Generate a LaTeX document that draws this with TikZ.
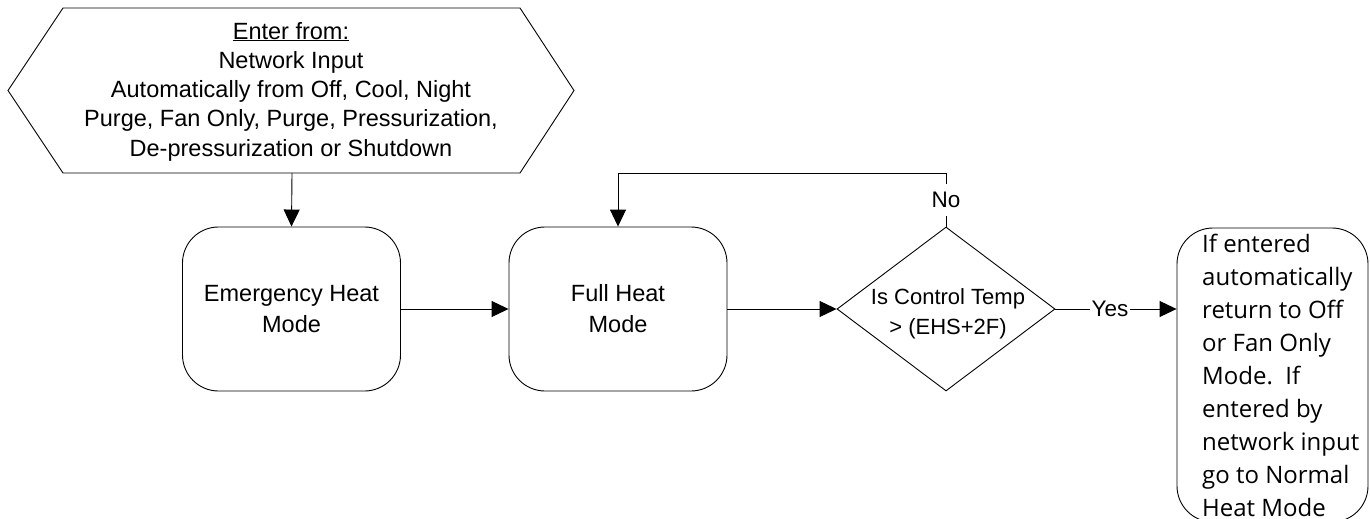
\documentclass[tikz,border=0pt]{standalone}
\usepackage{fontspec}
\setmainfont{Liberation Sans}
\newfontfamily\rfont{Open Sans}
\usetikzlibrary{shapes.geometric,arrows.meta}
\begin{document}
\begin{tikzpicture}[x=1pt,y=-1pt,
  line/.style={draw=black,line width=0.9pt},
  arr/.style={line,-{Triangle[length=17pt,width=16pt]}},
  mode/.style={line,rectangle,rounded corners=36pt,minimum width=218pt,minimum height=164pt,inner sep=0pt,align=center,font=\fontsize{23.5}{31}\selectfont},
  decision/.style={line,diamond,minimum width=218pt,minimum height=164pt,inner sep=0pt},
  endbox/.style={line,rectangle,rounded corners=36pt,minimum width=191pt,minimum height=294pt,inner sep=0pt},
  htext/.style={inner sep=0pt,align=center,font=\fontsize{23.5}{29.25}\selectfont},
  dtext/.style={inner sep=0pt,align=center,font=\fontsize{22}{30}\selectfont},
  rtext/.style={inner sep=0pt,align=left,font=\rfont\fontsize{24}{33}\selectfont},
  lbl/.style={fill=white,inner xsep=2pt,inner ysep=8pt,font=\fontsize{22.5}{27}\selectfont}
]
\useasboundingbox (0,0) rectangle (1370,519);
% entry hexagon
\draw[line] (63,8) -- (520,8) -- (574,90.5) -- (520,173) -- (63,173) -- (8,90.5) -- cycle;
\node[htext,anchor=base] (enter) at (291,156) {\underline{Enter from:}\\Network Input\\Automatically from Off, Cool, Night\hspace*{16pt}\\Purge, Fan Only, Purge, Pressurization,\hspace*{8pt}\\De-pressurization or Shutdown};
\coordinate (hexbot) at (292,173);
% modes
\node[mode] (ehm) at (291.5,309) {Emergency Heat\\Mode};
\node[mode] (fhm) at (618,309) {Full Heat\\Mode};
\node[decision] (dec) at (946,309) {};
\node[dtext,anchor=base] (dt) at (948,334) {Is Control Temp\\> (EHS+2F)};
\node[endbox] (rbox) at (1272.5,375) {};
\node[rtext,anchor=base west] (rt) at (1202,516.5) {If entered\\automatically\\return to Off\\or Fan Only\\Mode.\ \ If\\entered by\\network input\\go to Normal\\Heat Mode};
\coordinate (looph) at (618,173);
% connectors
\draw[arr] (hexbot) -- (ehm.north);
\draw[arr] (ehm.east) -- (fhm.west);
\draw[arr] (fhm.east) -- (dec.west);
\draw[arr] (dec.north) -- node[lbl] (no) {No} (dec.north |- looph) -| (fhm.north);
\draw[arr] (dec.east) -- node[lbl,inner ysep=4pt,pos=0.45] (yes) {Yes} (dec.east -| rbox.west);
\end{tikzpicture}
\end{document}
